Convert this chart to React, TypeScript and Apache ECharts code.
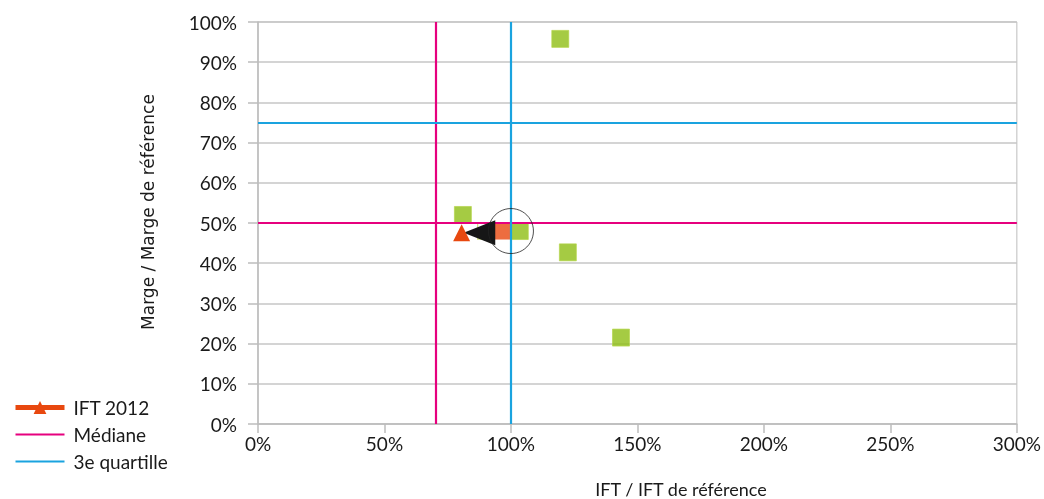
import React, { useEffect, useRef } from "react";
import * as echarts from "echarts";

// Farm positions: IFT relative to reference (%) vs margin relative to reference (%)
const otherFarmsX = [119.5, 81, 103.5, 122.5, 143.5];
const otherFarmsY = [95.8, 52, 48, 42.7, 21.5];
const hiddenFarm = [90, 48];
const farmBefore = [96.6, 48];
const ift2012 = [80.5, 47.6];
const focusCircle = [100, 48];
// Arrow from the previous position towards IFT 2012: [baseX, tipX, y]
const moveArrow = [93.8, 81.3, 47.6];

const medianX = 70.2;
const medianY = 50;
const quartileX = 100;
const quartileY = 75;

const xTicks = { min: 0, max: 300, step: 50 };
const yTicks = { min: 0, max: 100, step: 10 };

const GREEN = "#8FBE14";
const ORANGE = "#E8480F";
const PINK = "#E6007E";
const BLUE = "#1AA3DF";
const FONT = "Lato";

export default function App() {
  const ref = useRef<HTMLDivElement>(null);

  useEffect(() => {
    if (!ref.current) return;
    const chart = echarts.init(ref.current, null, { renderer: "svg" });

    const others = otherFarmsX.map((x, i) => [x, otherFarmsY[i]]);

    chart.setOption({
      animation: false,
      grid: {
        left: 258,
        right: 25,
        top: 22,
        bottom: 75,
        show: true,
        borderColor: "#BDBDBD",
        borderWidth: 1,
      },
      legend: {
        orient: "vertical",
        left: 13,
        top: 398,
        padding: 0,
        itemWidth: 49,
        itemHeight: 16,
        itemGap: 8,
        data: [
          { name: "IFT 2012", lineStyle: { width: 5 } },
          { name: "Médiane", itemStyle: { opacity: 0 }, lineStyle: { width: 2 } },
          { name: "3e quartille", itemStyle: { opacity: 0 }, lineStyle: { width: 2 } },
        ],
        textStyle: {
          fontFamily: FONT,
          fontSize: 19,
          color: "#1a1a1a",
          padding: [0, 0, 0, 4],
        },
      },
      xAxis: {
        type: "value",
        min: xTicks.min,
        max: xTicks.max,
        interval: xTicks.step,
        splitLine: { show: false },
        axisLine: { lineStyle: { color: "#BDBDBD", width: 1.5 } },
        axisTick: { show: true, length: 9, lineStyle: { color: "#BDBDBD", width: 1.5 } },
        axisLabel: {
          formatter: (v: number) => `${v}%`,
          fontFamily: FONT,
          fontSize: 19,
          color: "#1a1a1a",
          margin: 10,
        },
      },
      yAxis: {
        type: "value",
        min: yTicks.min,
        max: yTicks.max,
        interval: yTicks.step,
        splitLine: { show: true, lineStyle: { color: "#C6C6C6", width: 1.6 } },
        axisLine: { show: true, lineStyle: { color: "#BDBDBD", width: 1.5 } },
        axisTick: { show: true, length: 10, lineStyle: { color: "#BDBDBD", width: 1.5 } },
        axisLabel: {
          formatter: (v: number) => `${v}%`,
          fontFamily: FONT,
          fontSize: 19,
          color: "#1a1a1a",
          margin: 21,
        },
      },
      graphic: [
        {
          type: "text",
          x: 681,
          y: 489,
          style: {
            text: "IFT / IFT de référence",
            font: `18px ${FONT}`,
            fill: "#1a1a1a",
            align: "center",
            verticalAlign: "middle",
          },
        },
        {
          type: "text",
          x: 148,
          y: 212,
          rotation: Math.PI / 2,
          style: {
            text: "Marge / Marge de référence",
            font: "17px 'DejaVu Sans'",
            fill: "#1a1a1a",
            align: "center",
            verticalAlign: "middle",
          },
        },
      ],
      series: [
        {
          name: "Médiane",
          type: "line",
          data: [],
          symbol: "none",
          itemStyle: { color: PINK },
          lineStyle: { color: PINK, width: 2 },
          z: 2,
          markLine: {
            silent: true,
            symbol: ["none", "none"],
            label: { show: false },
            lineStyle: { color: PINK, width: 2.2, type: "solid" },
            data: [{ xAxis: medianX }, { yAxis: medianY }],
          },
        },
        {
          name: "3e quartille",
          type: "line",
          data: [],
          symbol: "none",
          itemStyle: { color: BLUE },
          lineStyle: { color: BLUE, width: 2 },
          z: 2,
          markLine: {
            silent: true,
            symbol: ["none", "none"],
            label: { show: false },
            lineStyle: { color: BLUE, width: 2.2, type: "solid" },
            data: [{ xAxis: quartileX }, { yAxis: quartileY }],
          },
        },
        {
          name: "Autres",
          type: "scatter",
          data: others,
          symbol: "rect",
          symbolSize: 17,
          itemStyle: { color: GREEN, borderColor: "#B4D446", borderWidth: 0.8 },
          z: 3,
        },
        {
          name: "Masqué",
          type: "scatter",
          data: [hiddenFarm],
          symbol: "rect",
          symbolSize: 16,
          itemStyle: { color: "#ffffff", borderColor: "#C4DB5E", borderWidth: 1.2 },
          z: 3,
        },
        {
          name: "Avant",
          type: "scatter",
          data: [farmBefore],
          symbol: "rect",
          symbolSize: 17,
          itemStyle: { color: ORANGE },
          z: 4,
        },
        {
          name: "Flèche",
          type: "custom",
          data: [moveArrow],
          z: 5,
          silent: true,
          renderItem: (_params: any, api: any) => {
            const base = api.coord([api.value(0), api.value(2)]);
            const tip = api.coord([api.value(1), api.value(2)]);
            const half = 12.5;
            return {
              type: "polygon",
              shape: {
                points: [
                  [tip[0], tip[1]],
                  [base[0], base[1] - half],
                  [base[0], base[1] + half],
                ],
              },
              style: { fill: "#161616" },
            };
          },
        },
        {
          name: "IFT 2012",
          type: "line",
          data: [ift2012],
          symbol: "triangle",
          symbolSize: 17,
          itemStyle: { color: ORANGE },
          lineStyle: { color: ORANGE, width: 5 },
          z: 6,
        },
        {
          name: "Cercle",
          type: "scatter",
          data: [focusCircle],
          symbol: "circle",
          symbolSize: 45,
          itemStyle: { color: "rgba(0,0,0,0)", borderColor: "#222", borderWidth: 1 },
          z: 7,
          silent: true,
        },
      ],
    });

    return () => chart.dispose();
  }, []);

  return (
    <div
      ref={ref}
      style={{ position: "fixed", left: 0, top: 0, width: 1044, height: 499 }}
    />
  );
}
